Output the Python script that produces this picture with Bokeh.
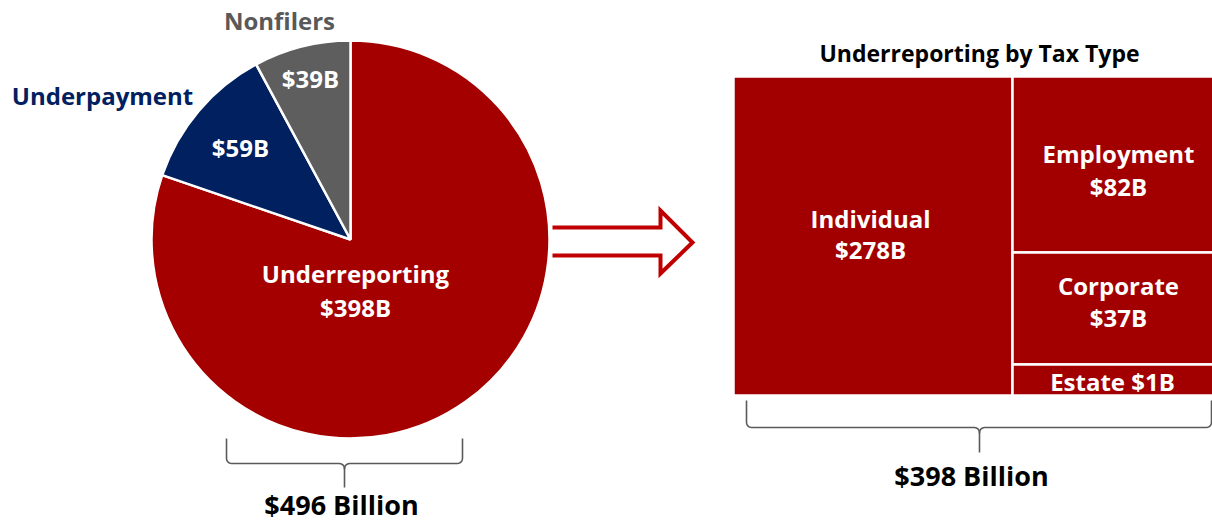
import numpy as np
from bokeh.plotting import figure
from bokeh.models import Range1d
from bokeh.core.properties import value
from bokeh.embed import file_html
from bokeh.resources import INLINE

# ---- data ----
gap_categories = ["Underreporting", "Underpayment", "Nonfilers"]
gap_values = [398, 59, 39]
gap_total = 496
tax_types = ["Individual", "Employment", "Corporate", "Estate"]
tax_values = [278, 82, 37, 1]
tax_total = 398

# ---- styling ----
FONT = value("Open Sans")
PIE_COLORS = ["#A50000", "#002060", "#5E5E5E"]
TM_COLOR = "#A20000"
ARROW_COLOR = "#C00000"
BRACE_COLOR = "#5A5A5A"
LABEL_SIZE = "24px"

W, H = 1212, 523
p = figure(width=W, height=H, output_backend="svg", toolbar_location=None,
           x_range=Range1d(0, 1212), y_range=Range1d(0, 523),
           min_border=0, outline_line_color=None)
p.axis.visible = False
p.grid.visible = False
p.background_fill_color = "white"
p.border_fill_color = "white"

def Y(ry):  # reference pixel row -> data y
    return 523 - ry

# ---- pie ----
cx, cy, r = 350, Y(239), 199
frac = np.array(gap_values, dtype=float) / sum(gap_values)
# Nonfilers starts at 12 o'clock going counter-clockwise, then Underpayment, then Underreporting
order = [2, 1, 0]
start = np.pi / 2
starts, ends = [0] * 3, [0] * 3
for i in order:
    starts[i] = start
    ends[i] = start + frac[i] * 2 * np.pi
    start = ends[i]
p.wedge(x=[cx] * 3, y=[cy] * 3, radius=r, start_angle=starts, end_angle=ends,
        fill_color=PIE_COLORS, line_color="white", line_width=2.5)

# pie labels
p.text(x=[279], y=[Y(20)], text=[gap_categories[2]], text_color="#595959",
       text_font=FONT, text_font_style="bold", text_font_size=LABEL_SIZE,
       text_align="center", text_baseline="middle")
p.text(x=[102], y=[Y(95)], text=[gap_categories[1]], text_color="#002060",
       text_font=FONT, text_font_style="bold", text_font_size=LABEL_SIZE,
       text_align="center", text_baseline="middle")
p.text(x=[310, 240, 355, 355], y=[Y(78), Y(147), Y(273), Y(307)],
       text=[f"${gap_values[2]}B", f"${gap_values[1]}B", gap_categories[0], f"${gap_values[0]}B"],
       text_color="white", text_font=FONT, text_font_style="bold", text_font_size=LABEL_SIZE,
       text_align="center", text_baseline="middle")

# ---- arrow ----
ax = [552, 660, 660, 692, 660, 660, 552]
ay = [Y(227), Y(227), Y(210), Y(242), Y(273), Y(255), Y(255)]
p.line(ax, ay, line_color=ARROW_COLOR, line_width=4, line_join="miter")

# ---- treemap ----
tm_left = [733, 1012, 1012, 1012]
tm_right = [1012, 1214, 1214, 1214]
tm_top = [Y(76), Y(76), Y(252), Y(364)]
tm_bottom = [Y(395), Y(252), Y(364), Y(395)]
p.quad(left=tm_left, right=tm_right, top=tm_top, bottom=tm_bottom,
       fill_color=TM_COLOR, line_color="white", line_width=2.5)
p.text(x=[979], y=[Y(52)], text=["Underreporting by Tax Type"], text_color="black",
       text_font=FONT, text_font_style="bold", text_font_size="23px",
       text_align="center", text_baseline="middle")
p.text(x=[870, 870, 1118, 1118, 1118, 1118, 1112],
       y=[Y(218), Y(249), Y(153), Y(186), Y(285), Y(317), Y(381)],
       text=[tax_types[0], f"${tax_values[0]}B", tax_types[1], f"${tax_values[1]}B",
             tax_types[2], f"${tax_values[2]}B", f"{tax_types[3]} ${tax_values[3]}B"],
       text_color="white", text_font=FONT, text_font_style="bold", text_font_size=LABEL_SIZE,
       text_align="center", text_baseline="middle")

# ---- braces ----
def qbez(p0, p1, p2, n=12):
    t = np.linspace(0, 1, n)[:, None]
    pts = (1 - t) ** 2 * np.array(p0) + 2 * (1 - t) * t * np.array(p1) + t ** 2 * np.array(p2)
    return pts

def brace(xl, xr, xm, ytop, ymid, ybot, rr=6):
    segs = [
        np.array([[xl, ytop], [xl, ymid - rr]]),
        qbez((xl, ymid - rr), (xl, ymid), (xl + rr, ymid)),
        np.array([[xl + rr, ymid], [xm - rr, ymid]]),
        qbez((xm - rr, ymid), (xm, ymid), (xm, ymid + rr)),
        np.array([[xm, ymid + rr], [xm, ybot]]),
    ]
    left = np.vstack(segs)
    segs2 = [
        np.array([[xr, ytop], [xr, ymid - rr]]),
        qbez((xr, ymid - rr), (xr, ymid), (xr - rr, ymid)),
        np.array([[xr - rr, ymid], [xm + rr, ymid]]),
        qbez((xm + rr, ymid), (xm, ymid), (xm, ymid + rr)),
    ]
    right = np.vstack(segs2)
    return left, right

for (xl, xr, xm, yt, ym, yb) in [(226, 462, 344, 438, 463, 487), (746, 1211, 979, 400, 427, 452)]:
    for part in brace(xl, xr, xm, yt, ym, yb):
        p.line(part[:, 0], [Y(v) for v in part[:, 1]], line_color=BRACE_COLOR, line_width=1.6)

p.text(x=[341, 971], y=[Y(504), Y(475)],
       text=[f"${gap_total} Billion", f"${tax_total} Billion"], text_color="black",
       text_font=FONT, text_font_style="bold", text_font_size="27px",
       text_align="center", text_baseline="middle")

open("out.html", "w").write(file_html(p, INLINE))
